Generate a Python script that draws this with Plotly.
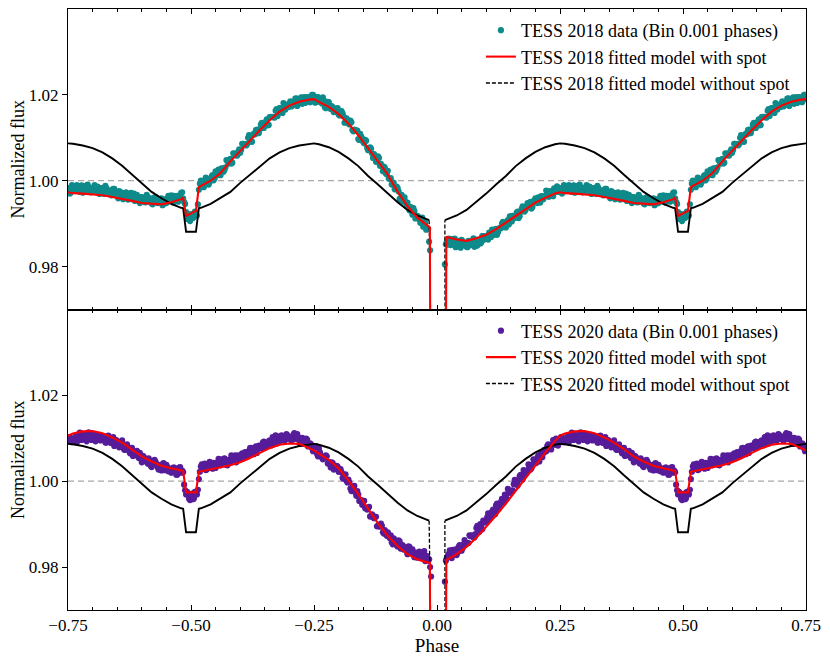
import numpy as np
import plotly.graph_objects as go
from plotly.subplots import make_subplots

# Phase-folded TESS light curves (one period, -0.5 .. 0.5), two interleaved sets of bins
data_phase = np.round(np.linspace(-0.5, 0.496, 250), 3)
data_phase_b = np.round(np.linspace(-0.498, 0.498, 250), 3)

flux_2018 = [
    0.9919, 0.9913, 0.9928, 0.9919, 0.9979, 1.0000, 0.9987, 0.9994, 1.0003, 0.9991,
    1.0005, 1.0013, 1.0006, 1.0013, 1.0026, 1.0013, 1.0028, 1.0025, 1.0048, 1.0040,
    1.0051, 1.0042, 1.0063, 1.0059, 1.0068, 1.0065, 1.0086, 1.0084, 1.0082, 1.0100,
    1.0096, 1.0091, 1.0110, 1.0118, 1.0111, 1.0120, 1.0135, 1.0123, 1.0137, 1.0129,
    1.0148, 1.0148, 1.0148, 1.0163, 1.0151, 1.0169, 1.0164, 1.0181, 1.0166, 1.0176,
    1.0180, 1.0173, 1.0181, 1.0191, 1.0174, 1.0190, 1.0194, 1.0185, 1.0181, 1.0195,
    1.0192, 1.0189, 1.0200, 1.0182, 1.0195, 1.0184, 1.0187, 1.0194, 1.0171, 1.0178,
    1.0183, 1.0167, 1.0171, 1.0163, 1.0168, 1.0154, 1.0154, 1.0157, 1.0135, 1.0145,
    1.0133, 1.0140, 1.0118, 1.0119, 1.0117, 1.0097, 1.0109, 1.0098, 1.0087, 1.0093,
    1.0071, 1.0078, 1.0064, 1.0062, 1.0044, 1.0057, 1.0035, 1.0033, 1.0033, 1.0017,
    1.0023, 1.0004, 0.9991, 0.9995, 0.9984, 0.9983, 0.9958, 0.9967, 0.9951, 0.9951,
    0.9949, 0.9931, 0.9931, 0.9936, 0.9912, 0.9918, 0.9910, 0.9912, 0.9893, 0.9901,
    0.9890, 0.9858, 0.9550, 0.9400, 0.9300, 0.9250, 0.9300, 0.9400, 0.9600, 0.9805,
    0.9858, 0.9865, 0.9850, 0.9860, 0.9865, 0.9850, 0.9854, 0.9844, 0.9859, 0.9852,
    0.9846, 0.9860, 0.9850, 0.9859, 0.9846, 0.9863, 0.9861, 0.9854, 0.9871, 0.9863,
    0.9871, 0.9863, 0.9875, 0.9886, 0.9874, 0.9888, 0.9880, 0.9890, 0.9900, 0.9893,
    0.9891, 0.9908, 0.9917, 0.9905, 0.9916, 0.9917, 0.9928, 0.9917, 0.9934, 0.9932,
    0.9932, 0.9948, 0.9940, 0.9935, 0.9952, 0.9959, 0.9948, 0.9958, 0.9964, 0.9957,
    0.9965, 0.9975, 0.9963, 0.9973, 0.9964, 0.9980, 0.9987, 0.9974, 0.9983, 0.9973,
    0.9982, 0.9979, 0.9990, 0.9977, 0.9988, 0.9972, 0.9985, 0.9989, 0.9980, 0.9973,
    0.9983, 0.9990, 0.9976, 0.9984, 0.9973, 0.9982, 0.9969, 0.9983, 0.9974, 0.9977,
    0.9967, 0.9981, 0.9971, 0.9959, 0.9974, 0.9964, 0.9971, 0.9973, 0.9956, 0.9964,
    0.9957, 0.9970, 0.9957, 0.9959, 0.9948, 0.9962, 0.9958, 0.9950, 0.9962, 0.9953,
    0.9947, 0.9956, 0.9962, 0.9948, 0.9952, 0.9959, 0.9945, 0.9956, 0.9959, 0.9952,
    0.9966, 0.9949, 0.9960, 0.9965, 0.9960, 0.9972, 0.9959, 0.9946, 0.9911, 0.9920,
]
flux_2018_b = [
    0.9922, 0.9916, 0.9926, 0.9945, 0.9993, 0.9991, 0.9985, 1.0007, 1.0000, 0.9997,
    1.0010, 1.0001, 1.0022, 1.0014, 1.0020, 1.0029, 1.0021, 1.0031, 1.0046, 1.0048,
    1.0040, 1.0064, 1.0060, 1.0059, 1.0073, 1.0072, 1.0086, 1.0085, 1.0085, 1.0106,
    1.0091, 1.0107, 1.0108, 1.0119, 1.0111, 1.0131, 1.0124, 1.0134, 1.0143, 1.0130,
    1.0149, 1.0149, 1.0147, 1.0167, 1.0159, 1.0169, 1.0158, 1.0178, 1.0174, 1.0172,
    1.0185, 1.0175, 1.0183, 1.0192, 1.0182, 1.0191, 1.0179, 1.0195, 1.0189, 1.0194,
    1.0183, 1.0200, 1.0190, 1.0183, 1.0195, 1.0189, 1.0180, 1.0187, 1.0169, 1.0184,
    1.0174, 1.0174, 1.0160, 1.0161, 1.0169, 1.0152, 1.0162, 1.0150, 1.0136, 1.0142,
    1.0131, 1.0136, 1.0115, 1.0118, 1.0117, 1.0095, 1.0103, 1.0090, 1.0095, 1.0076,
    1.0075, 1.0075, 1.0053, 1.0057, 1.0045, 1.0053, 1.0039, 1.0022, 1.0030, 1.0015,
    1.0005, 1.0006, 0.9996, 0.9980, 0.9986, 0.9975, 0.9954, 0.9956, 0.9961, 0.9941,
    0.9939, 0.9939, 0.9921, 0.9929, 0.9917, 0.9915, 0.9902, 0.9914, 0.9904, 0.9886,
    0.9888, 0.9838, 0.9500, 0.9350, 0.9260, 0.9260, 0.9350, 0.9500, 0.9690, 0.9852,
    0.9851, 0.9857, 0.9864, 0.9859, 0.9845, 0.9860, 0.9848, 0.9862, 0.9850, 0.9852,
    0.9845, 0.9857, 0.9851, 0.9866, 0.9861, 0.9849, 0.9862, 0.9856, 0.9871, 0.9865,
    0.9867, 0.9879, 0.9869, 0.9880, 0.9886, 0.9874, 0.9888, 0.9889, 0.9904, 0.9894,
    0.9904, 0.9898, 0.9917, 0.9918, 0.9913, 0.9926, 0.9913, 0.9927, 0.9940, 0.9928,
    0.9941, 0.9940, 0.9951, 0.9939, 0.9954, 0.9956, 0.9961, 0.9949, 0.9963, 0.9963,
    0.9977, 0.9963, 0.9976, 0.9965, 0.9982, 0.9974, 0.9981, 0.9979, 0.9970, 0.9990,
    0.9978, 0.9986, 0.9983, 0.9974, 0.9989, 0.9982, 0.9978, 0.9991, 0.9984, 0.9975,
    0.9982, 0.9977, 0.9986, 0.9969, 0.9983, 0.9976, 0.9988, 0.9970, 0.9977, 0.9966,
    0.9981, 0.9971, 0.9966, 0.9976, 0.9971, 0.9957, 0.9971, 0.9963, 0.9958, 0.9972,
    0.9962, 0.9953, 0.9967, 0.9955, 0.9962, 0.9958, 0.9950, 0.9967, 0.9952, 0.9959,
    0.9945, 0.9961, 0.9950, 0.9953, 0.9957, 0.9943, 0.9956, 0.9948, 0.9965, 0.9955,
    0.9953, 0.9965, 0.9964, 0.9951, 0.9962, 0.9973, 0.9950, 0.9927, 0.9923, 0.9906,
]

flux_2020 = [
    0.9968, 0.9958, 0.9975, 0.9969, 1.0005, 1.0034, 1.0030, 1.0041, 1.0027, 1.0035,
    1.0041, 1.0029, 1.0042, 1.0036, 1.0052, 1.0037, 1.0042, 1.0053, 1.0038, 1.0050,
    1.0045, 1.0058, 1.0050, 1.0044, 1.0060, 1.0051, 1.0065, 1.0061, 1.0056, 1.0069,
    1.0077, 1.0066, 1.0063, 1.0081, 1.0076, 1.0081, 1.0076, 1.0092, 1.0082, 1.0089,
    1.0095, 1.0084, 1.0096, 1.0107, 1.0094, 1.0092, 1.0107, 1.0100, 1.0097, 1.0107,
    1.0103, 1.0094, 1.0108, 1.0099, 1.0110, 1.0095, 1.0087, 1.0098, 1.0089, 1.0097,
    1.0087, 1.0086, 1.0070, 1.0080, 1.0064, 1.0076, 1.0059, 1.0051, 1.0055, 1.0058,
    1.0044, 1.0032, 1.0042, 1.0029, 1.0036, 1.0022, 1.0028, 1.0008, 1.0010, 1.0001,
    1.0004, 0.9983, 0.9985, 0.9989, 0.9966, 0.9969, 0.9955, 0.9945, 0.9954, 0.9938,
    0.9938, 0.9918, 0.9923, 0.9914, 0.9917, 0.9896, 0.9894, 0.9896, 0.9878, 0.9881,
    0.9881, 0.9868, 0.9858, 0.9867, 0.9859, 0.9848, 0.9860, 0.9847, 0.9841, 0.9846,
    0.9830, 0.9847, 0.9835, 0.9830, 0.9834, 0.9822, 0.9836, 0.9821, 0.9831, 0.9814,
    0.9825, 0.9818, 0.9778, 0.9450, 0.9300, 0.9250, 0.9300, 0.9450, 0.9650, 0.9766,
    0.9821, 0.9831, 0.9823, 0.9840, 0.9835, 0.9828, 0.9847, 0.9847, 0.9844, 0.9863,
    0.9855, 0.9856, 0.9872, 0.9873, 0.9869, 0.9891, 0.9886, 0.9900, 0.9888, 0.9907,
    0.9906, 0.9925, 0.9915, 0.9929, 0.9931, 0.9944, 0.9934, 0.9946, 0.9959, 0.9951,
    0.9966, 0.9982, 0.9973, 0.9976, 0.9993, 0.9995, 0.9990, 1.0012, 1.0008, 1.0026,
    1.0017, 1.0026, 1.0035, 1.0030, 1.0051, 1.0042, 1.0055, 1.0046, 1.0067, 1.0065,
    1.0069, 1.0082, 1.0079, 1.0074, 1.0096, 1.0086, 1.0085, 1.0097, 1.0103, 1.0092,
    1.0098, 1.0101, 1.0091, 1.0109, 1.0097, 1.0108, 1.0102, 1.0093, 1.0114, 1.0105,
    1.0097, 1.0109, 1.0100, 1.0105, 1.0095, 1.0105, 1.0099, 1.0090, 1.0106, 1.0090,
    1.0096, 1.0082, 1.0096, 1.0088, 1.0082, 1.0095, 1.0074, 1.0077, 1.0079, 1.0065,
    1.0078, 1.0062, 1.0066, 1.0058, 1.0066, 1.0044, 1.0057, 1.0050, 1.0041, 1.0048,
    1.0033, 1.0042, 1.0045, 1.0033, 1.0034, 1.0025, 1.0042, 1.0026, 1.0033, 1.0026,
    1.0020, 1.0032, 1.0025, 1.0015, 1.0032, 1.0020, 1.0021, 0.9979, 0.9975, 0.9959,
]
flux_2020_b = [
    0.9971, 0.9960, 0.9973, 0.9980, 1.0022, 1.0039, 1.0033, 1.0026, 1.0031, 1.0045,
    1.0031, 1.0043, 1.0031, 1.0043, 1.0041, 1.0051, 1.0041, 1.0050, 1.0037, 1.0044,
    1.0060, 1.0050, 1.0060, 1.0048, 1.0057, 1.0060, 1.0053, 1.0068, 1.0062, 1.0061,
    1.0078, 1.0071, 1.0076, 1.0066, 1.0083, 1.0079, 1.0090, 1.0078, 1.0083, 1.0093,
    1.0086, 1.0103, 1.0095, 1.0088, 1.0104, 1.0096, 1.0101, 1.0094, 1.0110, 1.0099,
    1.0100, 1.0097, 1.0112, 1.0099, 1.0102, 1.0088, 1.0101, 1.0088, 1.0099, 1.0081,
    1.0088, 1.0077, 1.0076, 1.0082, 1.0058, 1.0067, 1.0055, 1.0054, 1.0060, 1.0041,
    1.0044, 1.0044, 1.0027, 1.0029, 1.0034, 1.0022, 1.0021, 1.0006, 1.0016, 0.9997,
    0.9997, 0.9977, 0.9988, 0.9974, 0.9977, 0.9954, 0.9956, 0.9954, 0.9937, 0.9934,
    0.9940, 0.9918, 0.9919, 0.9917, 0.9895, 0.9898, 0.9901, 0.9881, 0.9886, 0.9873,
    0.9871, 0.9874, 0.9853, 0.9863, 0.9851, 0.9862, 0.9843, 0.9851, 0.9844, 0.9837,
    0.9848, 0.9834, 0.9841, 0.9823, 0.9831, 0.9833, 0.9821, 0.9823, 0.9837, 0.9826,
    0.9815, 0.9800, 0.9500, 0.9350, 0.9260, 0.9260, 0.9350, 0.9500, 0.9690, 0.9815,
    0.9827, 0.9839, 0.9821, 0.9833, 0.9841, 0.9834, 0.9851, 0.9838, 0.9853, 0.9855,
    0.9856, 0.9874, 0.9874, 0.9869, 0.9877, 0.9896, 0.9882, 0.9897, 0.9908, 0.9904,
    0.9916, 0.9912, 0.9923, 0.9934, 0.9923, 0.9948, 0.9942, 0.9952, 0.9951, 0.9969,
    0.9959, 0.9977, 0.9978, 0.9979, 1.0003, 0.9994, 1.0003, 1.0015, 1.0004, 1.0021,
    1.0020, 1.0039, 1.0027, 1.0039, 1.0049, 1.0043, 1.0060, 1.0059, 1.0056, 1.0073,
    1.0070, 1.0086, 1.0075, 1.0086, 1.0085, 1.0099, 1.0083, 1.0095, 1.0102, 1.0091,
    1.0098, 1.0105, 1.0097, 1.0113, 1.0096, 1.0103, 1.0100, 1.0112, 1.0107, 1.0096,
    1.0109, 1.0093, 1.0100, 1.0108, 1.0097, 1.0101, 1.0090, 1.0105, 1.0094, 1.0089,
    1.0103, 1.0087, 1.0092, 1.0079, 1.0090, 1.0083, 1.0073, 1.0086, 1.0074, 1.0076,
    1.0059, 1.0063, 1.0071, 1.0054, 1.0059, 1.0059, 1.0047, 1.0048, 1.0053, 1.0036,
    1.0038, 1.0050, 1.0040, 1.0027, 1.0038, 1.0032, 1.0026, 1.0038, 1.0023, 1.0029,
    1.0025, 1.0032, 1.0015, 1.0020, 1.0033, 1.0025, 0.9992, 0.9969, 0.9969, 0.9956,
]

# fitted models with spot (same phase grid for both sectors)
model_phase = [
    -0.500, -0.490, -0.484, -0.480,
    -0.46, -0.44, -0.42, -0.40, -0.38, -0.36, -0.34, -0.32, -0.30, -0.28, -0.26,
    -0.25, -0.244,
    -0.22, -0.20, -0.18, -0.16, -0.14, -0.12, -0.10, -0.08, -0.06, -0.04, -0.02,
    -0.0145, -0.0135, -0.008, 0.0, 0.008, 0.018, 0.019,
    0.02, 0.04, 0.06, 0.08, 0.10, 0.12, 0.14, 0.16, 0.18, 0.20, 0.22, 0.24,
    0.25,
    0.26, 0.28, 0.30, 0.32, 0.34, 0.36, 0.38, 0.40, 0.42, 0.44, 0.46, 0.48,
    0.484, 0.490, 0.500,
]
spot_2018 = [
    0.9924, 0.9930, 0.9985, 0.9988,
    1.0000, 1.0018, 1.0045, 1.0070, 1.0095, 1.0118, 1.0141, 1.0161, 1.0175, 1.0184, 1.0189,
    1.0190, 1.0186,
    1.0172, 1.0155, 1.0133, 1.0106, 1.0076, 1.0045, 1.0014, 0.9974, 0.9941, 0.9914, 0.9895,
    0.9891, 0.9550, 0.9300, 0.9200, 0.9300, 0.9550, 0.9870,
    0.9869, 0.9863, 0.9860, 0.9866, 0.9874, 0.9887, 0.9903, 0.9918, 0.9934, 0.9949, 0.9960, 0.9970,
    0.9973,
    0.9971, 0.9970, 0.9968, 0.9966, 0.9962, 0.9958, 0.9953, 0.9948, 0.9946, 0.9945, 0.9950, 0.9957,
    0.9961, 0.9918, 0.9924,
]
spot_2020 = [
    0.9974, 0.9974, 1.0022, 1.0023,
    1.0027, 1.0032, 1.0037, 1.0044, 1.0054, 1.0066, 1.0077, 1.0085, 1.0088, 1.0087, 1.0078,
    1.0072, 1.0067,
    1.0050, 1.0030, 1.0002, 0.9970, 0.9936, 0.9902, 0.9873, 0.9849, 0.9830, 0.9818, 0.9811,
    0.9810, 0.9550, 0.9300, 0.9200, 0.9300, 0.9550, 0.9816,
    0.9817, 0.9830, 0.9847, 0.9868, 0.9893, 0.9920, 0.9948, 0.9978, 1.0008, 1.0038, 1.0066, 1.0094,
    1.0106,
    1.0111, 1.0116, 1.0117, 1.0112, 1.0102, 1.0090, 1.0075, 1.0058, 1.0046, 1.0036, 1.0030, 1.0025,
    1.0024, 0.9974, 0.9974,
]

# model without spot (same in both panels), primary eclipse kept apart
nospot_phase = [
    -0.500, -0.490, -0.484, -0.48, -0.46, -0.44, -0.42, -0.40, -0.38, -0.36, -0.34, -0.32,
    -0.30, -0.28, -0.26, -0.25, -0.24, -0.22, -0.20, -0.18, -0.16, -0.14, -0.12, -0.10,
    -0.08, -0.06, -0.04, -0.02, -0.016, np.nan,
    0.016, 0.02, 0.04, 0.06, 0.08, 0.10, 0.12, 0.14, 0.16, 0.18, 0.20, 0.22, 0.24, 0.25,
    0.26, 0.28, 0.30, 0.32, 0.34, 0.36, 0.38, 0.40, 0.42, 0.44, 0.46, 0.48, 0.484, 0.490, 0.500,
]
nospot_flux = [
    0.9881, 0.9881, 0.9936, 0.9937, 0.9946, 0.9959, 0.9974, 0.9995, 1.0014, 1.0035, 1.0052, 1.0066,
    1.0076, 1.0082, 1.0086, 1.0087, 1.0085, 1.0078, 1.0067, 1.0052, 1.0034, 1.0011, 0.9991, 0.9970,
    0.9950, 0.9932, 0.9919, 0.9910, 0.9908, np.nan,
    0.9908, 0.9910, 0.9919, 0.9932, 0.9950, 0.9970, 0.9991, 1.0011, 1.0034, 1.0052, 1.0067, 1.0078,
    1.0085, 1.0087, 1.0086, 1.0082, 1.0076, 1.0066, 1.0052, 1.0035, 1.0014, 0.9995, 0.9974, 0.9959,
    0.9946, 0.9937, 0.9936, 0.9881, 0.9881,
]
ecl_phase = [-0.016, -0.0155, -0.008, 0.0, 0.008, 0.0165, 0.016]
ecl_flux = [0.9908, 0.9550, 0.9300, 0.9200, 0.9300, 0.9550, 0.9908]

x_ticks = [-0.75, -0.5, -0.25, 0.0, 0.25, 0.5, 0.75]
x_labels = ["\u22120.75", "\u22120.50", "\u22120.25", "0.00", "0.25", "0.50", "0.75"]
y_ticks = [0.98, 1.00, 1.02]
y_labels = ["0.98", "1.00", "1.02"]

TEAL = "#0f8a8a"
PURPLE = "#561c9a"
FONT = "Liberation Serif, serif"


def unfold(phase, flux):
    # repeat the folded curve so that it covers -0.75 .. 0.75
    ph = np.asarray(phase, dtype=float)
    fl = np.asarray(flux, dtype=float)
    left = ph >= 0.25
    right = ph <= -0.25
    x = np.concatenate([ph[left] - 1, ph, ph[right] + 1])
    y = np.concatenate([fl[left], fl, fl[right]])
    return x, y


fig = make_subplots(rows=2, cols=1, shared_xaxes=True, vertical_spacing=0)

panels = [
    (1, "legend", "2018", flux_2018, flux_2018_b, spot_2018, TEAL),
    (2, "legend2", "2020", flux_2020, flux_2020_b, spot_2020, PURPLE),
]
for row, leg, year, data, data_b, spot, col in panels:
    x, y = unfold(np.concatenate([data_phase, data_phase_b]), data + data_b)
    fig.add_trace(go.Scatter(
        x=x, y=y, mode="markers",
        marker=dict(color=col, size=6.2, line=dict(width=0)),
        name=f"TESS {year} data (Bin 0.001 phases)",
        legend=leg, legendrank=1,
    ), row=row, col=1)

    x, y = unfold(nospot_phase, nospot_flux)
    fig.add_trace(go.Scatter(
        x=x, y=y, mode="lines", line=dict(color="black", width=1.9),
        showlegend=False, hoverinfo="skip",
    ), row=row, col=1)
    x, y = unfold(ecl_phase, ecl_flux)
    fig.add_trace(go.Scatter(
        x=x, y=y, mode="lines", line=dict(color="black", width=1.3, dash="4px,2px"),
        name=f"TESS {year} fitted model without spot",
        legend=leg, legendrank=3,
    ), row=row, col=1)

    x, y = unfold(model_phase, spot)
    fig.add_trace(go.Scatter(
        x=x, y=y, mode="lines", line=dict(color="red", width=2.1),
        name=f"TESS {year} fitted model with spot",
        legend=leg, legendrank=2,
    ), row=row, col=1)

    fig.add_hline(y=1.0, line=dict(color="#a8a8a8", width=1.2, dash="6px,4px"),
                  layer="below", row=row, col=1)

    fig.update_yaxes(
        range=[0.97, 1.04], tickvals=y_ticks, ticktext=y_labels,
        ticks="outside", ticklen=5, tickcolor="black",
        showline=True, linecolor="black", linewidth=1, mirror=True,
        showgrid=False, zeroline=False, automargin=False,
        title=dict(text="Normalized flux", font=dict(size=18), standoff=4),
        row=row, col=1,
    )
    fig.update_xaxes(
        range=[-0.75, 0.75], tickvals=x_ticks, ticktext=x_labels,
        ticks="inside", ticklen=5, tickcolor="black",
        minor=dict(dtick=0.05, tick0=0, ticks="inside", ticklen=3, tickcolor="black"),
        showline=True, linecolor="black", linewidth=1, mirror="ticks",
        showgrid=False, zeroline=False, automargin=False,
        row=row, col=1,
    )

fig.update_xaxes(title=dict(text="Phase", font=dict(size=19), standoff=4), row=2, col=1)

legend_style = dict(
    xanchor="right", yanchor="top", bgcolor="rgba(0,0,0,0)",
    font=dict(size=18, family=FONT, color="black"),
    itemwidth=30, tracegroupgap=0,
)
# the page body adds an 8 px offset, so the figure is 8 px smaller than the window
fig.update_layout(
    width=822, height=651,
    margin=dict(l=60, r=24, t=1, b=49),
    paper_bgcolor="white", plot_bgcolor="white",
    font=dict(family=FONT, size=17, color="black"),
    legend=dict(x=0.985, y=0.995, **legend_style),
    legend2=dict(x=0.985, y=0.495, **legend_style),
)

fig.write_html("out.html")
